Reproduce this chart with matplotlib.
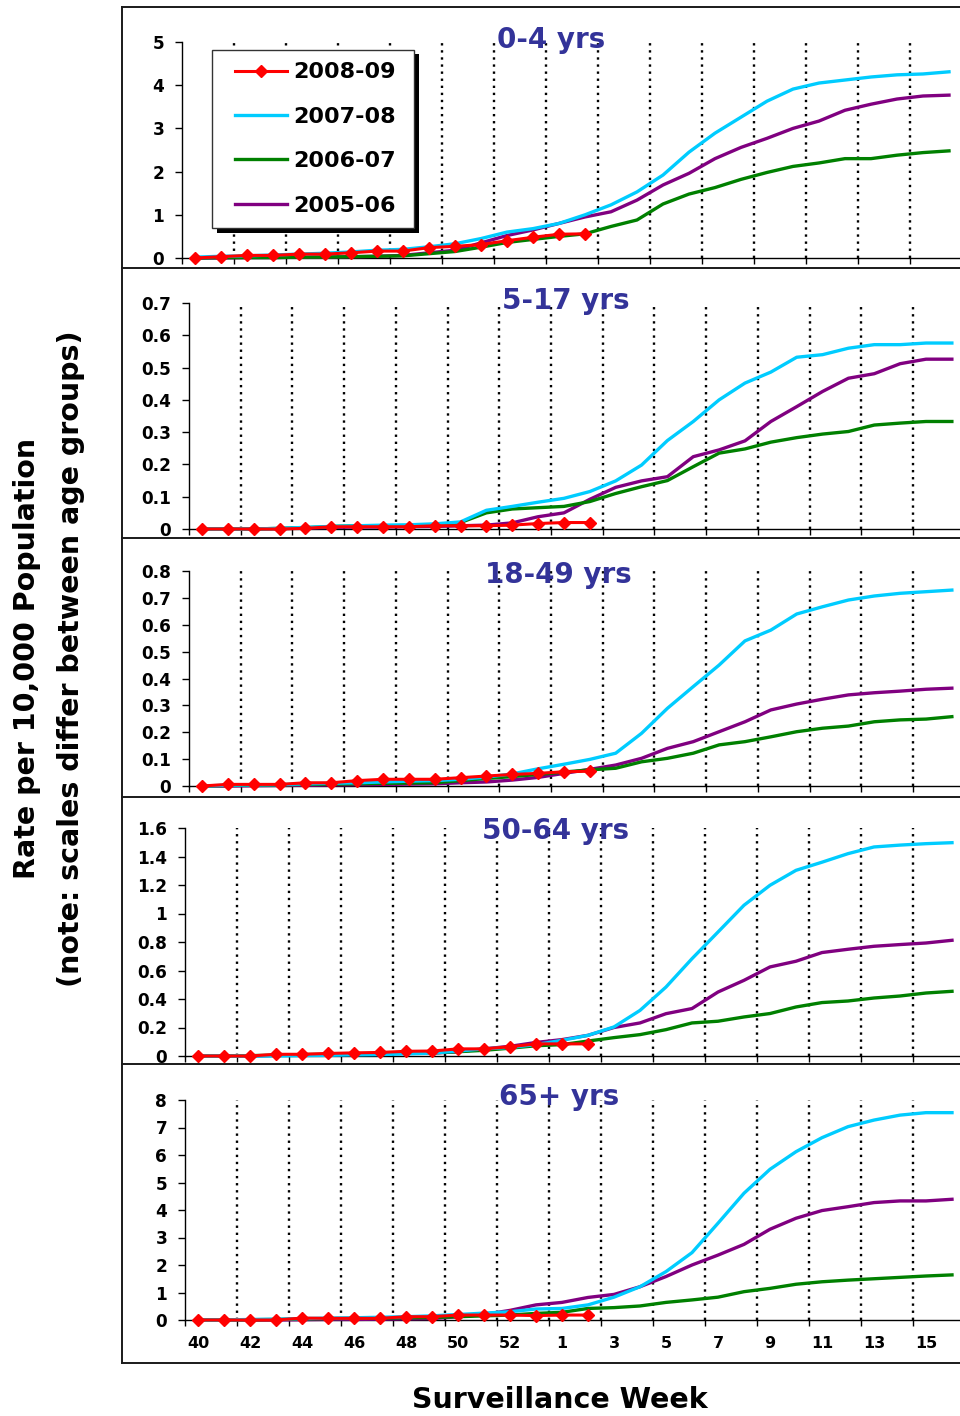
import matplotlib.pyplot as plt
import numpy as np
from matplotlib.lines import Line2D
from matplotlib.patches import Rectangle

W, H = 960, 1416

# surveillance weeks (2008 had a week 53)
weeks = list(range(40, 54)) + list(range(1, 17))
seasons = ["2008-09", "2007-08", "2006-07", "2005-06"]
season_colors = ["#ff0000", "#00ccff", "#008000", "#800080"]
age_groups = ["0-4 yrs", "5-17 yrs", "18-49 yrs", "50-64 yrs", "65+ yrs"]
y_max = [5, 0.7, 0.8, 1.6, 8]
y_step = [1, 0.1, 0.1, 0.2, 1]

# 0-4 yrs
r04_0809 = [0.0, 0.03, 0.06, 0.06, 0.09, 0.09, 0.12, 0.16, 0.16, 0.24, 0.27, 0.31, 0.4, 0.48, 0.55, 0.56]
r04_0708 = [0.02, 0.04, 0.05, 0.07, 0.09, 0.11, 0.14, 0.18, 0.2, 0.26, 0.33, 0.45, 0.6, 0.68, 0.8, 1.0,
            1.23, 1.53, 1.92, 2.45, 2.89, 3.26, 3.63, 3.91, 4.05, 4.12, 4.19, 4.24, 4.26, 4.31]
r04_0607 = [0.0, 0.01, 0.01, 0.01, 0.02, 0.02, 0.03, 0.04, 0.05, 0.1, 0.15, 0.25, 0.36, 0.43, 0.5, 0.56,
            0.73, 0.88, 1.25, 1.48, 1.63, 1.82, 1.98, 2.12, 2.2, 2.3, 2.3, 2.38, 2.44, 2.48]
r04_0506 = [0.0, 0.0, 0.01, 0.01, 0.02, 0.02, 0.03, 0.04, 0.06, 0.12, 0.18, 0.35, 0.52, 0.65, 0.8, 0.95,
            1.07, 1.34, 1.69, 1.96, 2.3, 2.56, 2.77, 3.0, 3.17, 3.42, 3.56, 3.68, 3.75, 3.77]

# 5-17 yrs
r517_0809 = [0.0, 0.0, 0.0, 0.0, 0.002, 0.007, 0.007, 0.007, 0.007, 0.01, 0.01, 0.01, 0.012, 0.017, 0.02, 0.02]
r517_0708 = [0.0, 0.0, 0.0, 0.002, 0.005, 0.008, 0.01, 0.012, 0.013, 0.016, 0.022, 0.058, 0.07, 0.083, 0.095, 0.116,
             0.149, 0.198, 0.274, 0.333, 0.4, 0.452, 0.486, 0.532, 0.54, 0.56, 0.571, 0.571, 0.576, 0.576]
r517_0607 = [0.0, 0.0, 0.0, 0.002, 0.004, 0.008, 0.01, 0.01, 0.01, 0.012, 0.02, 0.05, 0.062, 0.066, 0.07, 0.085,
             0.11, 0.131, 0.15, 0.193, 0.235, 0.248, 0.269, 0.283, 0.294, 0.302, 0.322, 0.328, 0.333, 0.333]
r517_0506 = [0.0, 0.0, 0.0, 0.001, 0.003, 0.005, 0.006, 0.006, 0.007, 0.008, 0.01, 0.012, 0.019, 0.038, 0.05, 0.092,
             0.129, 0.149, 0.162, 0.224, 0.245, 0.273, 0.333, 0.379, 0.426, 0.467, 0.481, 0.512, 0.526, 0.526]

# 18-49 yrs
r1849_0809 = [0.0, 0.006, 0.006, 0.006, 0.012, 0.012, 0.02, 0.025, 0.025, 0.025, 0.031, 0.037, 0.043, 0.047, 0.053, 0.055]
r1849_0708 = [0.0, 0.003, 0.004, 0.005, 0.008, 0.01, 0.012, 0.015, 0.018, 0.02, 0.025, 0.033, 0.045, 0.064, 0.081, 0.099,
              0.122, 0.196, 0.289, 0.37, 0.45, 0.54, 0.58, 0.64, 0.667, 0.692, 0.707, 0.717, 0.723, 0.729]
r1849_0607 = [0.0, 0.002, 0.003, 0.004, 0.006, 0.007, 0.008, 0.01, 0.011, 0.012, 0.02, 0.028, 0.035, 0.043, 0.052, 0.06,
              0.066, 0.09, 0.103, 0.122, 0.153, 0.165, 0.183, 0.202, 0.215, 0.223, 0.239, 0.246, 0.249, 0.258]
r1849_0506 = [0.0, 0.0, 0.001, 0.002, 0.003, 0.004, 0.005, 0.006, 0.007, 0.008, 0.012, 0.015, 0.022, 0.032, 0.047, 0.062,
              0.078, 0.103, 0.14, 0.165, 0.202, 0.239, 0.283, 0.305, 0.323, 0.339, 0.347, 0.353, 0.36, 0.364]

# 50-64 yrs
r5064_0809 = [0.0, 0.0, 0.0, 0.012, 0.012, 0.018, 0.022, 0.025, 0.033, 0.035, 0.05, 0.05, 0.065, 0.085, 0.085, 0.085]
r5064_0708 = [0.0, 0.0, 0.0, 0.0, 0.003, 0.005, 0.008, 0.01, 0.015, 0.02, 0.035, 0.05, 0.06, 0.08, 0.11, 0.145,
              0.204, 0.32, 0.484, 0.683, 0.87, 1.058, 1.198, 1.303, 1.36, 1.42, 1.467, 1.48, 1.49, 1.497]
r5064_0607 = [0.0, 0.0, 0.003, 0.005, 0.01, 0.012, 0.015, 0.018, 0.02, 0.022, 0.03, 0.04, 0.055, 0.072, 0.08, 0.105,
              0.129, 0.15, 0.185, 0.232, 0.244, 0.274, 0.298, 0.344, 0.375, 0.386, 0.407, 0.421, 0.442, 0.454]
r5064_0506 = [0.0, 0.0, 0.0, 0.005, 0.007, 0.01, 0.012, 0.015, 0.018, 0.02, 0.03, 0.05, 0.068, 0.095, 0.115, 0.145,
              0.2, 0.232, 0.297, 0.333, 0.449, 0.531, 0.625, 0.665, 0.726, 0.749, 0.77, 0.782, 0.793, 0.812]

# 65+ yrs
r65_0809 = [0.0, 0.0, 0.0, 0.0, 0.07, 0.06, 0.06, 0.06, 0.12, 0.12, 0.18, 0.18, 0.18, 0.16, 0.18, 0.18]
r65_0708 = [0.0, 0.0, 0.02, 0.03, 0.05, 0.07, 0.08, 0.1, 0.12, 0.15, 0.2, 0.25, 0.3, 0.4, 0.42, 0.55,
            0.83, 1.21, 1.76, 2.45, 3.52, 4.61, 5.48, 6.12, 6.63, 7.03, 7.27, 7.45, 7.54, 7.54]
r65_0607 = [0.0, 0.0, 0.01, 0.02, 0.04, 0.05, 0.06, 0.07, 0.08, 0.09, 0.12, 0.15, 0.18, 0.24, 0.28, 0.42,
            0.45, 0.51, 0.64, 0.73, 0.83, 1.03, 1.15, 1.3, 1.39, 1.45, 1.5, 1.55, 1.6, 1.64]
r65_0506 = [0.0, 0.0, 0.0, 0.0, 0.01, 0.02, 0.02, 0.03, 0.04, 0.05, 0.12, 0.2, 0.35, 0.55, 0.64, 0.82,
            0.93, 1.21, 1.58, 2.0, 2.36, 2.75, 3.3, 3.7, 3.98, 4.12, 4.27, 4.33, 4.33, 4.39]

panel_data = [
    [r04_0809, r04_0708, r04_0607, r04_0506],
    [r517_0809, r517_0708, r517_0607, r517_0506],
    [r1849_0809, r1849_0708, r1849_0607, r1849_0506],
    [r5064_0809, r5064_0708, r5064_0607, r5064_0506],
    [r65_0809, r65_0708, r65_0607, r65_0506],
]

# pixel layout of each panel: left, top, bottom, width of one week
panel_px = [(182, 42, 258, 26.0), (189, 303, 529, 25.86), (189, 571, 786, 25.86),
            (185, 828, 1056, 26.0), (185, 1100, 1320, 26.0)]
title_px = [(551, 48), (566, 309), (558, 583), (556, 839), (559, 1105)]


def fx(px):
    return px / W


def fy(py):
    return 1 - py / H


fig = plt.figure(figsize=(W / 100, H / 100), dpi=100)
x = np.arange(len(weeks))
n = len(weeks)
handles = []

for p, (left, top, bottom, step) in enumerate(panel_px):
    ax = fig.add_axes([fx(left), fy(bottom), n * step / W, (bottom - top) / H])
    ax.set_xlim(-0.5, n - 0.5)
    ax.set_ylim(0, y_max[p])
    ax.patch.set_alpha(0)

    ax.vlines(np.arange(1.5, n - 1, 2), 0, y_max[p], colors="k",
              linestyles=(0, (1, 2)), lw=1.7, zorder=1)

    lines = {}
    for s in [3, 2, 1, 0]:
        vals = panel_data[p][s]
        if s == 0:
            ln, = ax.plot(x[:len(vals)], vals, color=season_colors[s], lw=2.2,
                          marker="D", ms=6.6, mec=season_colors[s], zorder=5, clip_on=False)
        else:
            ln, = ax.plot(x[:len(vals)], vals, color=season_colors[s], lw=2.4, zorder=3,
                          solid_joinstyle="round", clip_on=False)
        lines[s] = ln
    if p == 0:
        handles = [lines[s] for s in range(4)]

    for side in ["top", "right"]:
        ax.spines[side].set_visible(False)
    for side in ["left", "bottom"]:
        ax.spines[side].set_color("k")
        ax.spines[side].set_linewidth(1.0)

    yt = np.arange(0, y_max[p] + y_step[p] / 2, y_step[p])
    ax.set_yticks(yt)
    ax.set_yticklabels(["%g" % round(v, 2) for v in yt], fontsize=12.2, fontweight="bold")
    ax.tick_params(axis="y", length=4.8, width=1, direction="out", pad=8)

    ax.set_xticks(np.arange(0, n, 2))
    ax.set_xticks(np.arange(-0.5, n, 2), minor=True)
    ax.tick_params(axis="x", which="major", length=0, pad=11.5)
    ax.tick_params(axis="x", which="minor", length=4.5, width=1, direction="out")
    if p == len(panel_px) - 1:
        ax.set_xticklabels([str(weeks[i]) for i in range(0, n, 2)], fontsize=11.5, fontweight="bold")
    else:
        ax.set_xticklabels([])

    tx, ty = title_px[p]
    fig.text(fx(tx), fy(ty), age_groups[p], color="#333399", fontsize=20,
             fontweight="bold", ha="center", va="baseline")

# chart borders
border_kw = dict(color="#1a1a1a", lw=1.4, transform=fig.transFigure)
fig.add_artist(Line2D([fx(122), fx(122)], [fy(7), fy(1363)], **border_kw))
for yb in [7, 268, 538, 797, 1064, 1363]:
    fig.add_artist(Line2D([fx(122), 1.0], [fy(yb), fy(yb)], **border_kw))

# legend box with shadow
fig.add_artist(Rectangle((fx(217), fy(232.5)), (414 - 212) / W, (228 - 50) / H,
                         transform=fig.transFigure, facecolor="black", edgecolor="none", zorder=2))
fig.add_artist(Rectangle((fx(212), fy(228)), (414 - 212) / W, (228 - 50) / H,
                         transform=fig.transFigure, facecolor="white", edgecolor="#333333",
                         lw=1.0, zorder=2.1))
fig.legend(handles, seasons, loc="center left", bbox_to_anchor=(fx(235), fy(139)),
           frameon=False, prop={"size": 16, "weight": "bold"}, handlelength=2.34,
           handletextpad=0.27, labelspacing=1.1, borderpad=0, borderaxespad=0,
           numpoints=1).set_zorder(5)

fig.text(fx(27), fy(658), "Rate per 10,000 Population", rotation=90, ha="center",
         va="center", fontsize=20.5, fontweight="bold")
fig.text(fx(71), fy(659), "(note: scales differ between age groups)", rotation=90,
         ha="center", va="center", fontsize=20.5, fontweight="bold")
fig.text(fx(560), fy(1408), "Surveillance Week", ha="center", va="baseline",
         fontsize=20.5, fontweight="bold")

fig.savefig("out.png", dpi=100)
